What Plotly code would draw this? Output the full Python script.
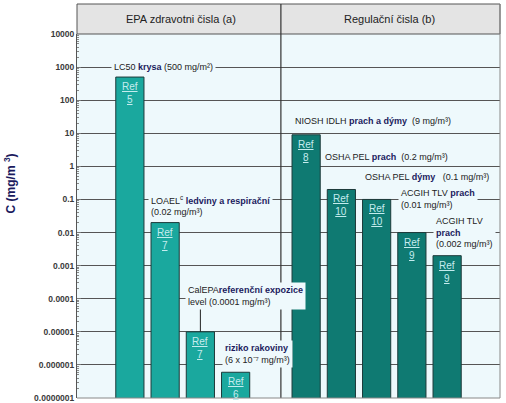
import math
import plotly.graph_objects as go

# ---- data ----
categories = ["LC50", "LOAEL", "CalEPA REL", "riziko", " ",
              "NIOSH IDLH", "OSHA PEL prach", "OSHA PEL dýmy", "ACGIH TLV 1", "ACGIH TLV 2"]
epa_cats = ["LC50", "LOAEL", "CalEPA REL", "riziko"]
epa_vals = [500, 0.02, 0.00001, 6e-7]
epa_refs = ["5", "7", "7", "6"]
reg_cats = ["NIOSH IDLH", "OSHA PEL prach", "OSHA PEL dýmy", "ACGIH TLV 1", "ACGIH TLV 2"]
reg_vals = [9, 0.2, 0.1, 0.01, 0.002]
reg_refs = ["8", "10", "10", "9", "9"]
tick_vals = [1e4, 1e3, 1e2, 1e1, 1, 0.1, 0.01, 0.001, 0.0001, 0.00001, 0.000001, 0.0000001]
tick_text = ["10000", "1000", "100", "10", "1", "0.1", "0.01", "0.001", "0.0001",
             "0.00001", "0.000001", "0.0000001"]
panel_titles = ["EPA zdravotni čisla (a)", "Regulační čisla (b)"]

FONT = "Liberation Sans, Arial, sans-serif"
NAVY = "#1b1b5e"
PLOT_BG = "#eef9fc"
GRID = "#555555"

minor_vals = [m * 10.0 ** e for e in range(-7, 4) for m in range(2, 10)]

fig = go.Figure()
fig.add_trace(go.Bar(x=epa_cats, y=epa_vals, width=0.8,
                     marker=dict(color="#1aa89e", line=dict(color="#1d3a3a", width=1)),
                     hoverinfo="skip", showlegend=False))
fig.add_trace(go.Bar(x=reg_cats, y=reg_vals, width=0.8,
                     marker=dict(color="#0f7a72", line=dict(color="#1d3a3a", width=1)),
                     hoverinfo="skip", showlegend=False))

annotations = []
# Ref labels at the top of each bar
for c, v, r in list(zip(epa_cats, epa_vals, epa_refs)) + list(zip(reg_cats, reg_vals, reg_refs)):
    annotations.append(dict(x=c, y=math.log10(v), xref="x", yref="y", yanchor="top", yshift=-2,
                            text=f"<u>Ref</u><br><u>{r}</u>", showarrow=False,
                            font=dict(family=FONT, size=10, color="#c4ecee"),
                            align="center"))

def B(t):
    return f"<b><span style='color:{NAVY}'>{t}</span></b>"

lab_font = dict(family=FONT, size=9, color="#222222")
# value labels (category, log10 y, x offset, align, text)
labels = [
    ("LC50", 3.0, 0.94, "center", "LC50 " + B("krysa") + " (500 mg/m²)"),
    ("LOAEL", -1.18, -0.49, "left", "LOAEL<sup>c</sup> " + B("ledviny a respirační") + "<br>(0.02 mg/m³)"),
    ("CalEPA REL", -3.91, -0.44, "left", "CalEPA" + B("referenční expozice") + "<br>level (0.0001 mg/m³)"),
    ("riziko", -5.67, -0.39, "left", B("riziko rakoviny") + "<br>(6 x 10⁻⁷ mg/m³)"),
    ("NIOSH IDLH", 1.36, -0.4, "left", "NIOSH IDLH " + B("prach a dýmy") + "  (9 mg/m³)"),
    ("OSHA PEL prach", 0.27, -0.55, "left", "OSHA PEL " + B("prach") + "  (0.2 mg/m³)"),
    ("OSHA PEL dýmy", -0.33, -0.42, "left", "OSHA PEL " + B("dýmy") + "   (0.1 mg/m³)"),
    ("ACGIH TLV 1", -0.98, -0.4, "left", "ACGIH TLV " + B("prach") + "<br>(0.01 mg/m³)"),
    ("ACGIH TLV 2", -2.0, -0.4, "left", "ACGIH TLV<br>" + B("prach") + "<br>(0.002 mg/m³)"),
]
for c, yv, dx, al, txt in labels:
    xi = categories.index(c) + dx
    annotations.append(dict(x=xi, y=yv, xref="x", yref="y",
                            xanchor="center" if al == "center" else "left",
                            yanchor="middle", text=txt, showarrow=False, align=al,
                            font=lab_font, bgcolor=PLOT_BG, borderpad=2))

# vertical pointer for CalEPA (shapes on log axes use data values)
shapes = [
    dict(type="line", xref="x", yref="y", x0=2, x1=2, y0=5.4e-5, y1=1e-5,
         line=dict(color="#222222", width=1)),
]

# header band and frame
ydom_top = 364 / 394
shapes += [
    dict(type="rect", xref="paper", yref="paper", x0=0, x1=1, y0=ydom_top, y1=1,
         fillcolor="#e4e4e4", line=dict(color="#555555", width=1), layer="below"),
    dict(type="line", xref="paper", yref="paper", x0=0.482, x1=0.482, y0=0, y1=1,
         line=dict(color="#333333", width=1.2)),
    dict(type="line", xref="paper", yref="paper", x0=1, x1=1, y0=0, y1=1,
         line=dict(color="#888888", width=1)),
    dict(type="line", xref="paper", yref="paper", x0=0, x1=1, y0=0, y1=0,
         line=dict(color="#888888", width=1)),
]
annotations += [
    dict(x=0.245, y=(ydom_top + 1) / 2, xref="paper", yref="paper", text=panel_titles[0],
         xanchor="center", yanchor="middle",
         showarrow=False, font=dict(family=FONT, size=11, color="#222222")),
    dict(x=0.738, y=(ydom_top + 1) / 2, xref="paper", yref="paper", text=panel_titles[1],
         xanchor="center", yanchor="middle",
         showarrow=False, font=dict(family=FONT, size=11, color="#222222")),
    dict(x=-0.158, y=0.545, xref="paper", yref="paper", textangle=-90,
         xanchor="center", yanchor="middle",
         text="<b>C (mg/m <sup>3</sup>)</b>", showarrow=False,
         font=dict(family=FONT, size=12, color=NAVY)),
]

fig.update_layout(
    width=506, height=403,
    margin=dict(l=77, r=6, t=4, b=5, autoexpand=False),
    paper_bgcolor="white", plot_bgcolor=PLOT_BG,
    bargap=0.2,
    xaxis=dict(type="category", categoryarray=categories, categoryorder="array",
               range=[-1.5, 10.5], showticklabels=False, showgrid=False,
               zeroline=False, showline=False, fixedrange=True),
    yaxis=dict(type="log", range=[-7, 4], domain=[0, ydom_top],
               tickvals=tick_vals, ticktext=tick_text, ticklabeloverflow="allow",
               tickfont=dict(family=FONT, size=8.5, color="#3a3a3a", weight="bold"),
               showgrid=True, gridcolor=GRID, gridwidth=1,
               showline=True, linecolor="#555555", linewidth=1,
               ticks="inside", ticklen=4, tickcolor="#777777",
               minor=dict(ticks="inside", ticklen=2, tickcolor="#888888",
                          tickmode="array", tickvals=minor_vals, showgrid=False),
               fixedrange=True),
    annotations=annotations, shapes=shapes,
)
fig.write_html("out.html", config={"displayModeBar": False},
               post_script="document.body.style.margin='0px';document.body.style.overflow='hidden';")
